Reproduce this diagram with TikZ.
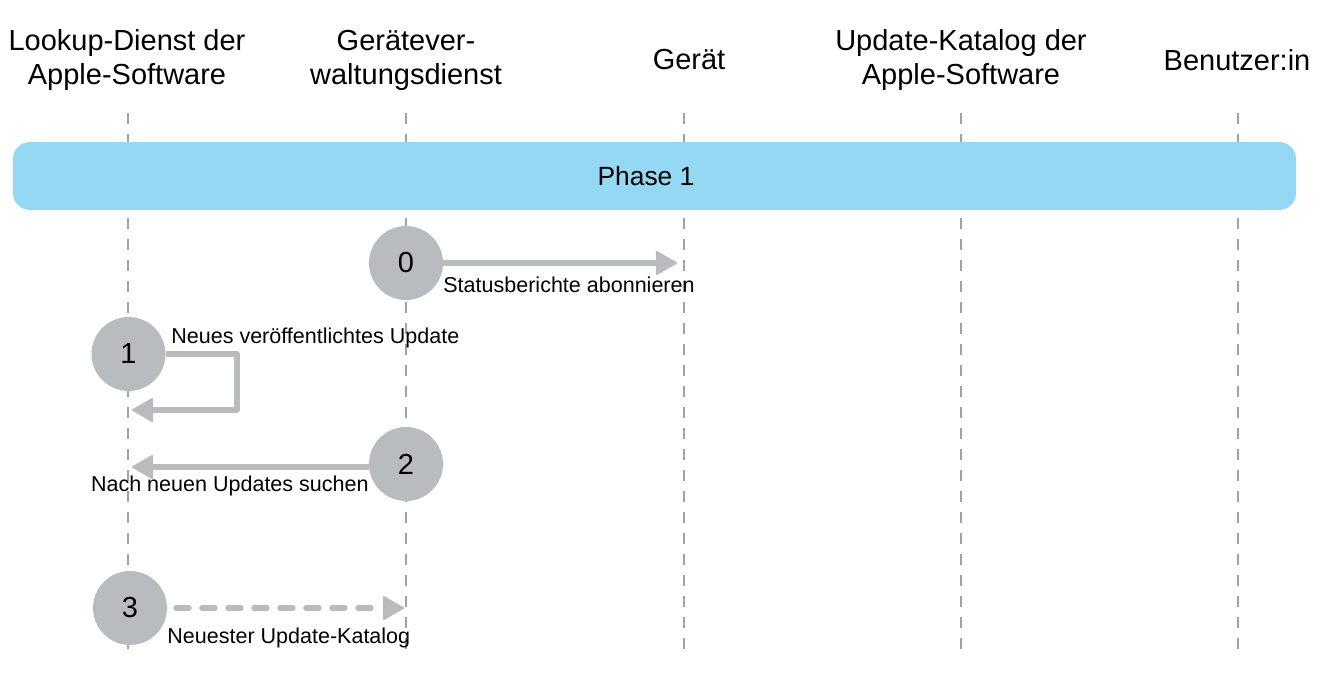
\documentclass[tikz,border=0pt]{standalone}
\usepackage{fontspec}
\setmainfont{Liberation Sans}
\usetikzlibrary{arrows.meta}
\definecolor{stepgray}{HTML}{B9BCBF}
\definecolor{phaseblue}{HTML}{94D8F3}
\definecolor{lifegray}{HTML}{A0A2A5}
\tikzset{
    head/.style={align=center,font=\fontsize{16.5}{19.4}\selectfont,text=black},
    msg/.style={font=\fontsize{12.25}{14}\selectfont,text=black,inner sep=0pt},
    stepnode/.style={circle,fill=stepgray,minimum size=74*0.02cm,inner sep=0pt,font=\fontsize{16.5}{18}\selectfont},
    lifeline/.style={draw=lifegray,line width=0.7pt,dash pattern=on 0.22cm off 0.2cm},
    flow/.style={draw=stepgray,line width=0.11cm,line join=round,-{Triangle[length=0.44cm,width=0.5cm,line width=1pt,round]}},
    flowdash/.style={flow,line cap=round,dash pattern=on 0.26cm off 0.26cm}
}
\begin{document}
\begin{tikzpicture}[x=0.02cm,y=-0.02cm]
    \useasboundingbox (0,0) rectangle (1325,673);

    % Lifelines
    \foreach \name/\xpos in {lookup/128,mdm/406,device/684,catalog/961,user/1238} {
        \coordinate (\name top) at (\xpos,113);
        \coordinate (\name end) at (\xpos,653);
        \draw[lifeline] (\name top) -- (\name end);
    }

    % Headers
    \node[head] (lookup) at (127,60) {Lookup-Dienst der\\Apple-Software};
    \node[head] (mdm) at (406,60) {Gerätever-\\waltungsdienst};
    \node[head] (device) at (689,60) {Gerät};
    \node[head] (catalog) at (961,60) {Update-Katalog der\\Apple-Software};
    \node[head] (user) at (1237,60) {Benutzer:in};

    % Phase bar
    \node[fill=phaseblue,rounded corners=0.34cm,minimum width=1283*0.02cm,minimum height=68*0.02cm,inner sep=0pt] (phase) at (654.5,176) {};
    \node[font=\fontsize{15}{18}\selectfont] (phaselabel) at (646,176) {Phase 1};

    % Steps
    \node[stepnode] (step0) at (406,263) {0};
    \node[stepnode] (step1) at (128.5,354) {1};
    \node[stepnode] (step2) at (406,464) {2};
    \node[stepnode] (step3) at (130,608) {3};

    % Arrow ends
    \coordinate (end0) at (677,263);
    \coordinate (bend1a) at (237,354);
    \coordinate (bend1b) at (237,410);
    \coordinate (end1) at (132,410);
    \coordinate (end2) at (132,467);
    \coordinate (start3) at (176,608);
    \coordinate (end3) at (404,608);

    % Messages
    \draw[flow] (step0) -- (end0);
    \draw[flow] (step1) -- (bend1a) -- (bend1b) -- (end1);
    \draw[flow] (step2.west |- end2) -- (end2);
    \draw[flowdash] (start3) -- (end3);

    % Labels
    \node[msg,anchor=base west] (msg0) at (443,292) {Statusberichte abonnieren};
    \node[msg,anchor=base west] (msg1) at (171,343) {Neues veröffentlichtes Update};
    \node[msg,anchor=base east] (msg2) at (369,491) {Nach neuen Updates suchen};
    \node[msg,anchor=base west] (msg3) at (167,643) {Neuester Update-Katalog};
\end{tikzpicture}
\end{document}
